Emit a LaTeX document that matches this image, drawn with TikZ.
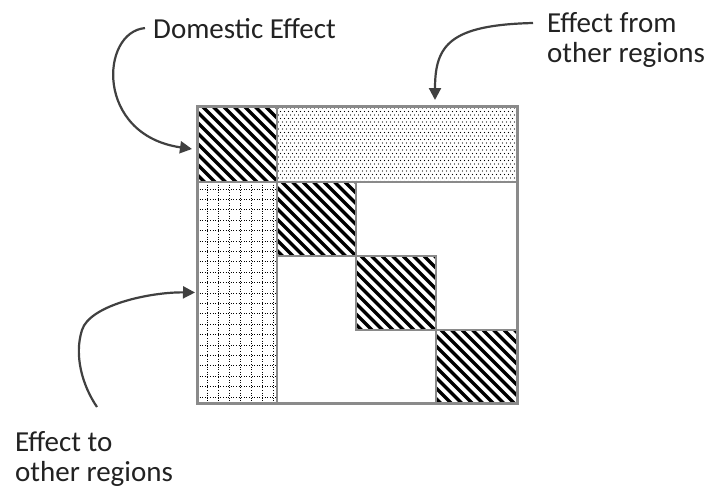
\documentclass[tikz,border=0pt]{standalone}
\usepackage{fontspec}
\setmainfont{Carlito}
\usetikzlibrary{arrows.meta}
\definecolor{boxgray}{HTML}{8A8A8A}
\definecolor{arrowgray}{HTML}{404040}
\definecolor{textgray}{HTML}{222222}
\begin{document}
\begin{tikzpicture}[x=1pt,y=-1pt,
  cell/.style={draw=boxgray,line width=2pt,inner sep=0pt,outer sep=0pt,rectangle},
  hatch/.style={path picture={
     \foreach \k in {-100,-89.5,...,100}
       \draw[line width=3.4pt,black] ([xshift=\k pt]path picture bounding box.north west) -- ++(130pt,-130pt);}},
  dotfill/.style={path picture={
     \foreach \j in {0,...,11}{\foreach \i in {0,...,60}{
        \fill[black] ([xshift={(\i*4+1.5)*1pt},yshift={-(\j*7+2)*1pt}]path picture bounding box.north west) circle (0.55pt);
        \fill[black] ([xshift={(\i*4+3.5)*1pt},yshift={-(\j*7+5.5)*1pt}]path picture bounding box.north west) circle (0.55pt);}}}},
  gridline/.style={line width=0.9pt,black,dash pattern=on 1pt off 1.6pt},
  gridfill/.style={path picture={
       \foreach \xx in {10,21,...,80} \draw[gridline] ([xshift=\xx pt]path picture bounding box.north west) -- ++(0pt,-230pt);
       \foreach \yy in {7,17.4,...,225} \draw[gridline] ([yshift=-\yy pt]path picture bounding box.north west) -- ++(90pt,0pt);}},
  lbl/.style={font=\fontsize{29}{30}\selectfont,text=textgray,inner sep=0pt,align=left},
  arr/.style={draw=arrowgray,line width=2.2pt,-{Triangle[length=12pt,width=12pt]}}
]
\fill[white] (0,0) rectangle (709,493);
\useasboundingbox (0,0) rectangle (709,493);

% cells
\node[cell,hatch,minimum width=80pt,minimum height=76pt] (d1) at (237,144) {};
\node[cell,dotfill,minimum width=240pt,minimum height=76pt] (top) at (397,144) {};
\node[cell,gridfill,minimum width=80pt,minimum height=221pt] (left) at (237,292.5) {};
\node[cell,hatch,minimum width=79pt,minimum height=74pt] (d2) at (316.5,219) {};
\node[cell,hatch,minimum width=80pt,minimum height=74pt] (d3) at (396,293) {};
\node[cell,hatch,minimum width=81pt,minimum height=73pt] (d4) at (476.5,366.5) {};
\node[draw=boxgray,line width=3pt,inner sep=0pt,outer sep=0pt,minimum width=320pt,minimum height=297pt] (outer) at (357,254.5) {};

% labels
\node[lbl,anchor=base west] (dom) at (153,38) {Domestic Effect};
\node[lbl,anchor=north west] (from) at (547,12) {Effect from\\other regions};
\node[lbl,anchor=north west] (to) at (15,431) {Effect to\\other regions};

% arrows
\draw[arr] ([xshift=-8pt]dom.west) .. controls (100,32) and (95,135) .. ([xshift=-5pt,yshift=-5pt]d1.west);
\draw[arr] ([xshift=-14pt,yshift=-11pt]from.north west) .. controls (450,25) and (435,45) .. ([xshift=38pt,yshift=6pt]top.north);
\draw[arr] ([xshift=82pt,yshift=24pt]to.north west) .. controls (82,385) and (74,355) .. (82,330)
   .. controls (90,305) and (150,292) .. ([xshift=-2pt]left.west);
\end{tikzpicture}
\end{document}
